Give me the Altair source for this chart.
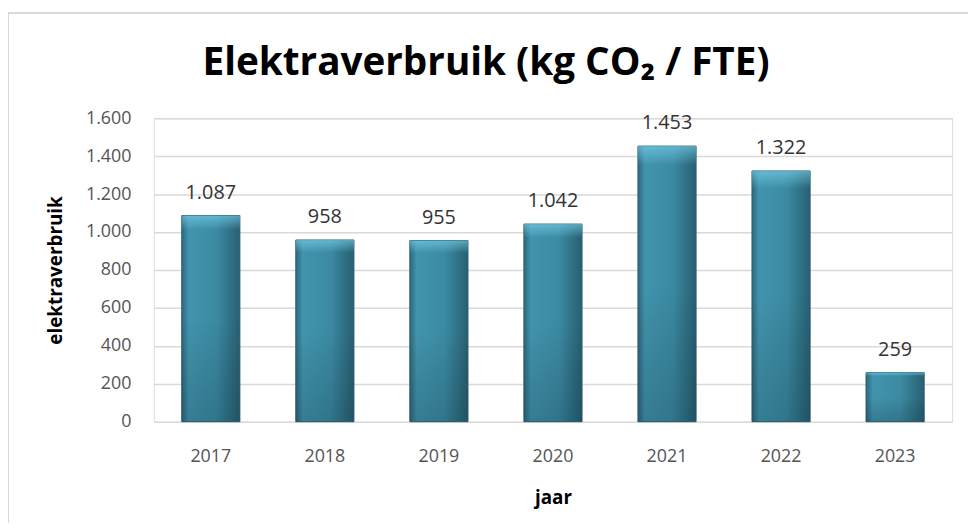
import altair as alt
import pandas as pd

years = ["2017", "2018", "2019", "2020", "2021", "2022", "2023"]
values = [1087, 958, 955, 1042, 1453, 1322, 259]
y_ticks = [0, 200, 400, 600, 800, 1000, 1200, 1400, 1600]
title_text = "Elektraverbruik (kg CO₂ / FTE)"

df = pd.DataFrame({"jaar": years, "waarde": values})
df["label"] = [f"{v:,}".replace(",", ".") for v in values]

W, H = 805, 306
FONT = "Open Sans"

x_enc = alt.X("jaar:N", sort=years,
              scale=alt.Scale(paddingInner=0.49, paddingOuter=0.245),
              axis=alt.Axis(title="jaar", labelAngle=0, domain=False, ticks=False,
                            labelPadding=26, labelFontSize=18, labelColor="#555555",
                            labelFont=FONT, titleFont=FONT, titleFontSize=19,
                            titleFontWeight="bold", titleColor="#000000", titlePadding=23))
y_enc = alt.Y("waarde:Q", scale=alt.Scale(domain=[0, 1600], nice=False),
              axis=alt.Axis(title="elektraverbruik", values=y_ticks, domain=False, ticks=False,
                            labelOverlap=False,
                            labelPadding=23, labelFontSize=18, labelColor="#555555",
                            labelFont=FONT, titleFont=FONT, titleFontSize=19,
                            titleFontWeight="bold", titleColor="#000000", titlePadding=20,
                            gridColor="#d9d9d9", gridWidth=1.5,
                            labelExpr="replace(format(datum.value, ','), ',', '.')"))

base = alt.Chart(df)

bars = base.mark_bar(
    color=alt.LinearGradient(
        gradient="linear", x1=0, x2=1, y1=0, y2=0,
        stops=[alt.GradientStop(color="#2c687c", offset=0),
               alt.GradientStop(color="#4194ad", offset=0.12),
               alt.GradientStop(color="#3b8aa2", offset=0.6),
               alt.GradientStop(color="#285f72", offset=1)]),
    stroke="#2a5f70", strokeWidth=1
).encode(x=x_enc, y=y_enc)

shade = base.mark_bar(
    color=alt.LinearGradient(
        gradient="linear", x1=0, x2=0, y1=0, y2=1,
        stops=[alt.GradientStop(color="rgba(130,220,245,0.55)", offset=0),
               alt.GradientStop(color="rgba(130,220,245,0.0)", offset=0.07),
               alt.GradientStop(color="rgba(0,0,0,0)", offset=0.5),
               alt.GradientStop(color="rgba(0,20,30,0.18)", offset=1)])
).encode(x=x_enc, y=y_enc)

labels = base.mark_text(baseline="middle", dy=-23, fontSize=20, font=FONT,
                        color="#333333").encode(
    x=x_enc, y=y_enc, text="label:N")

deco = alt.Chart(pd.DataFrame({"t": [title_text]}))

border = deco.mark_rect(
    fill=None, stroke="#d9d9d9", strokeWidth=2, clip=False
).encode(x=alt.value(-147), x2=alt.value(830), y=alt.value(-106), y2=alt.value(430))

title = deco.mark_text(fontSize=39, fontWeight="bold", font=FONT, color="#000000",
                       align="center", baseline="alphabetic").encode(
    x=alt.value(335), y=alt.value(-44), text="t:N")

chart = alt.layer(border, bars, shade, labels, title).properties(
    width=W, height=H,
    padding={"left": 147, "top": 109, "right": 16, "bottom": 100},
    autosize=alt.AutoSizeParams(type="none"),
).configure_view(stroke=None).configure(background="white")

chart.save("out.html", embed_options={"renderer": "svg", "actions": False})
